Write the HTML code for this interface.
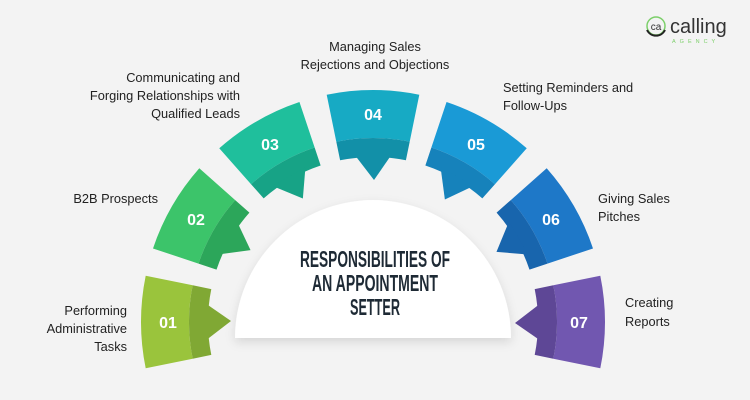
<!DOCTYPE html>
<html><head><meta charset="utf-8"><style>
html,body{margin:0;padding:0;background:#f3f3f3;}
svg{display:block;}
.l{font-family:"Liberation Sans",sans-serif;font-size:12.8px;fill:#222;}
.n{font-family:"Liberation Sans",sans-serif;font-size:16px;font-weight:bold;fill:#fff;}
.t{font-family:"Liberation Sans Narrow","Liberation Sans",sans-serif;font-size:23px;font-weight:bold;fill:#1e2a35;}
</style></head><body>
<svg width="750" height="400" viewBox="0 0 750 400" xmlns="http://www.w3.org/2000/svg">
<defs>
<filter id="sh" x="-20%" y="-20%" width="140%" height="150%"><feDropShadow dx="0" dy="4" stdDeviation="5" flood-color="#000" flood-opacity="0.12"/></filter>
</defs>
<rect width="750" height="400" fill="#f3f3f3"/>

<g transform="rotate(-90 373 322)">
<path d="M326.7 94.7 A232 232 0 0 1 419.3 94.7 L409.7 141.7 A184 184 0 0 0 336.3 141.7 Z" fill="#9ac43c"/>
<path d="M336.3 141.7 A184 184 0 0 1 409.7 141.7 L405.9 160.3 A165 165 0 0 0 340.1 160.3 Z" fill="#80a834"/>
<path d="M354 154 L392 154 L374 180 Z" fill="#80a834"/></g>
<g transform="rotate(-60 373 322)">
<path d="M326.7 94.7 A232 232 0 0 1 419.3 94.7 L409.7 141.7 A184 184 0 0 0 336.3 141.7 Z" fill="#3cc46a"/>
<path d="M336.3 141.7 A184 184 0 0 1 409.7 141.7 L405.9 160.3 A165 165 0 0 0 340.1 160.3 Z" fill="#2ca65a"/>
<path d="M354 154 L392 154 L374 180 Z" fill="#2ca65a"/></g>
<g transform="rotate(-30 373 322)">
<path d="M326.7 94.7 A232 232 0 0 1 419.3 94.7 L409.7 141.7 A184 184 0 0 0 336.3 141.7 Z" fill="#1fbf9c"/>
<path d="M336.3 141.7 A184 184 0 0 1 409.7 141.7 L405.9 160.3 A165 165 0 0 0 340.1 160.3 Z" fill="#17a386"/>
<path d="M354 154 L392 154 L374 180 Z" fill="#17a386"/></g>
<g>
<path d="M326.7 94.7 A232 232 0 0 1 419.3 94.7 L409.7 141.7 A184 184 0 0 0 336.3 141.7 Z" fill="#17aac4"/>
<path d="M336.3 141.7 A184 184 0 0 1 409.7 141.7 L405.9 160.3 A165 165 0 0 0 340.1 160.3 Z" fill="#1290a8"/>
<path d="M354 154 L392 154 L374 180 Z" fill="#1290a8"/></g>
<g transform="rotate(30 373 322)">
<path d="M326.7 94.7 A232 232 0 0 1 419.3 94.7 L409.7 141.7 A184 184 0 0 0 336.3 141.7 Z" fill="#1a9ad6"/>
<path d="M336.3 141.7 A184 184 0 0 1 409.7 141.7 L405.9 160.3 A165 165 0 0 0 340.1 160.3 Z" fill="#1682bb"/>
<path d="M354 154 L392 154 L374 180 Z" fill="#1682bb"/></g>
<g transform="rotate(60 373 322)">
<path d="M326.7 94.7 A232 232 0 0 1 419.3 94.7 L409.7 141.7 A184 184 0 0 0 336.3 141.7 Z" fill="#1e78c8"/>
<path d="M336.3 141.7 A184 184 0 0 1 409.7 141.7 L405.9 160.3 A165 165 0 0 0 340.1 160.3 Z" fill="#1865ad"/>
<path d="M354 154 L392 154 L374 180 Z" fill="#1865ad"/></g>
<g transform="rotate(90 373 322)">
<path d="M326.7 94.7 A232 232 0 0 1 419.3 94.7 L409.7 141.7 A184 184 0 0 0 336.3 141.7 Z" fill="#7157b0"/>
<path d="M336.3 141.7 A184 184 0 0 1 409.7 141.7 L405.9 160.3 A165 165 0 0 0 340.1 160.3 Z" fill="#5e4796"/>
<path d="M354 154 L392 154 L374 180 Z" fill="#5e4796"/></g>

<g class="n" text-anchor="middle">
<text x="168" y="328">01</text>
<text x="196" y="225">02</text>
<text x="270" y="150">03</text>
<text x="373" y="120">04</text>
<text x="476" y="150">05</text>
<text x="551" y="225">06</text>
<text x="579" y="328">07</text>
</g>

<path d="M235 338 A138 138 0 0 1 511 338 Z" fill="#fff" filter="url(#sh)"/>
<text class="t" x="375" y="267" text-anchor="middle" textLength="150" lengthAdjust="spacingAndGlyphs">RESPONSIBILITIES OF</text>
<text class="t" x="375" y="291" text-anchor="middle" textLength="126" lengthAdjust="spacingAndGlyphs">AN APPOINTMENT</text>
<text class="t" x="375" y="315" text-anchor="middle" textLength="50" lengthAdjust="spacingAndGlyphs">SETTER</text>

<g class="l">
<text x="375" y="51" text-anchor="middle">Managing Sales</text>
<text x="375" y="69" text-anchor="middle">Rejections and Objections</text>
<text x="240" y="82" text-anchor="end">Communicating and</text>
<text x="240" y="100" text-anchor="end">Forging Relationships with</text>
<text x="240" y="118" text-anchor="end">Qualified Leads</text>
<text x="503" y="92">Setting Reminders and</text>
<text x="503" y="110">Follow-Ups</text>
<text x="158" y="203" text-anchor="end">B2B Prospects</text>
<text x="598" y="203">Giving Sales</text>
<text x="598" y="221">Pitches</text>
<text x="127" y="315" text-anchor="end">Performing</text>
<text x="127" y="333" text-anchor="end">Administrative</text>
<text x="127" y="351" text-anchor="end">Tasks</text>
<text x="625" y="307">Creating</text>
<text x="625" y="326">Reports</text>
</g>

<circle cx="656" cy="26" r="9" fill="none" stroke="#7ccf6a" stroke-width="1.5"/>
<path d="M647 30 A10 10 0 0 0 665 30" fill="none" stroke="#222" stroke-width="2"/>
<text x="656" y="30" text-anchor="middle" font-family="Liberation Sans,sans-serif" font-size="10" fill="#333">ca</text>
<text x="670" y="33" font-family="Liberation Sans,sans-serif" font-size="20" fill="#333">calling</text>
<text x="672" y="43" font-family="Liberation Sans,sans-serif" font-size="5.5" letter-spacing="4" fill="#7ccf6a">AGENCY</text>
</svg>
</body></html>
